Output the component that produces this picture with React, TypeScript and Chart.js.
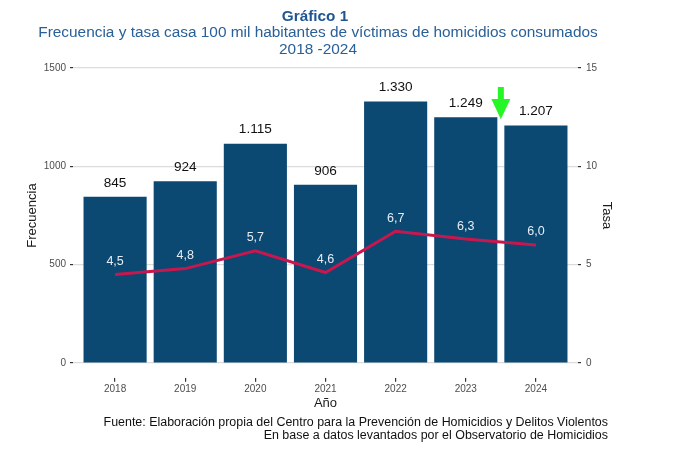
import { useEffect, useRef } from 'react';
import { Chart, registerables } from 'chart.js';

Chart.register(...registerables);

const FONT = '"Liberation Sans", Arial, Helvetica, sans-serif';

const YEARS = ['2018', '2019', '2020', '2021', '2022', '2023', '2024'];
const FRECUENCIA = [845, 924, 1115, 906, 1330, 1249, 1207];
const TASA = [4.5, 4.8, 5.7, 4.6, 6.7, 6.3, 6.0];
const FREQ_TICKS = [0, 500, 1000, 1500];
const TASA_TICKS = [0, 5, 10, 15];

// flecha verde entre 2023 y 2024 (en unidades de los ejes)
const ARROW_X = 6.5;
const ARROW_Y = [1403, 1342, 1239];

const TITLE = 'Gráfico 1';
const SUBTITLE = [
  'Frecuencia y tasa casa 100 mil habitantes de víctimas de homicidios consumados',
  '2018 -2024',
];
const FOOTER = [
  'Fuente: Elaboración propia del Centro para la Prevención de Homicidios y Delitos Violentos',
  'En base a datos levantados por el Observatorio de Homicidios',
];

const miles = (n: number) => String(n).replace(/\B(?=(\d{3})+(?!\d))/g, '.');
const decimal = (n: number) => n.toFixed(1).replace('.', ',');

const textPlugin = {
  id: 'textos',
  afterDatasetsDraw(chart: any) {
    const { ctx, scales } = chart;
    const barMeta = chart.getDatasetMeta(0);
    const lineMeta = chart.getDatasetMeta(1);
    ctx.save();
    ctx.textAlign = 'center';
    ctx.textBaseline = 'middle';

    ctx.font = `13.6px ${FONT}`;
    ctx.fillStyle = '#111111';
    barMeta.data.forEach((bar: any, i: number) => {
      ctx.fillText(miles(FRECUENCIA[i]), bar.x, bar.y - 14);
    });

    ctx.font = `12.5px ${FONT}`;
    ctx.fillStyle = '#e6edf4';
    lineMeta.data.forEach((pt: any, i: number) => {
      ctx.fillText(decimal(TASA[i]), pt.x, pt.y - 13);
    });

    // flecha
    const ax = scales.x.getPixelForValue(ARROW_X);
    const [y0, y1, y2] = ARROW_Y.map((v) => scales.y.getPixelForValue(v));
    ctx.fillStyle = '#26f526';
    ctx.beginPath();
    ctx.moveTo(ax - 3, y0);
    ctx.lineTo(ax + 3, y0);
    ctx.lineTo(ax + 3, y1);
    ctx.lineTo(ax + 9.5, y1);
    ctx.lineTo(ax, y2);
    ctx.lineTo(ax - 9.5, y1);
    ctx.lineTo(ax - 3, y1);
    ctx.closePath();
    ctx.fill();
    ctx.restore();
  },
  afterDraw(chart: any) {
    const { ctx } = chart;
    ctx.save();
    ctx.textAlign = 'center';
    ctx.textBaseline = 'middle';
    ctx.fillStyle = '#1f5591';
    ctx.font = `bold 15.3px ${FONT}`;
    ctx.fillText(TITLE, 307, 8.5);
    ctx.fillStyle = '#2a6099';
    ctx.font = `15.4px ${FONT}`;
    SUBTITLE.forEach((t, i) => ctx.fillText(t, 310, 25 + i * 17));

    ctx.textAlign = 'right';
    ctx.fillStyle = '#111111';
    ctx.font = `12.45px ${FONT}`;
    FOOTER.forEach((t, i) => ctx.fillText(t, 600, 414.5 + i * 13.5));
    ctx.restore();
  },
};

const App = () => {
  const canvasRef = useRef<HTMLCanvasElement>(null);

  useEffect(() => {
    if (!canvasRef.current) return;
    Chart.defaults.font.family = FONT;

    const chart = new Chart(canvasRef.current, {
      type: 'bar',
      data: {
        datasets: [
          {
            type: 'bar',
            label: 'Frecuencia',
            data: FRECUENCIA.map((v, i) => ({ x: i + 1, y: v })),
            backgroundColor: '#0b4872',
            categoryPercentage: 1,
            barPercentage: 0.9,
            yAxisID: 'y',
            order: 2,
          },
          {
            type: 'line',
            label: 'Tasa',
            data: TASA.map((v, i) => ({ x: i + 1, y: v })),
            borderColor: '#c8174f',
            borderWidth: 3,
            pointRadius: 0,
            tension: 0,
            yAxisID: 'y1',
            order: 1,
          },
        ] as any,
      },
      options: {
        responsive: true,
        maintainAspectRatio: false,
        animation: false,
        layout: { padding: { top: 45.25, left: 0, right: 54, bottom: 50.8 } },
        plugins: {
          legend: { display: false },
          tooltip: { enabled: false },
        },
        scales: {
          x: {
            type: 'linear',
            min: 0.4,
            max: 7.6,
            offset: false,
            afterBuildTicks: (scale: any) => {
              scale.ticks = YEARS.map((_, i) => ({ value: i + 1 }));
            },
            afterFit: (scale: any) => {
              scale.height = 33.45;
            },
            border: { display: false },
            grid: { offset: false, drawOnChartArea: false, drawTicks: true, tickLength: 4, tickColor: '#333333', lineWidth: 1.2 },
            ticks: {
              padding: 1,
              color: '#4d4d4d',
              font: { size: 10 },
              callback: (v: any) => YEARS[Number(v) - 1] ?? '',
            },
            title: { display: true, text: 'Año', color: '#1a1a1a', font: { size: 13 }, padding: { top: 0, bottom: 0 } },
          },
          y: {
            position: 'left',
            min: -75,
            max: 1575,
            afterBuildTicks: (scale: any) => {
              scale.ticks = FREQ_TICKS.map((v) => ({ value: v }));
            },
            afterFit: (scale: any) => {
              scale.width = 65;
            },
            border: { display: false },
            grid: { color: '#dcdcdc', lineWidth: 1.2, tickLength: 3, tickColor: '#333333' },
            ticks: { padding: 4, color: '#4d4d4d', font: { size: 10 }, callback: (v: any) => String(v) },
            title: { display: true, text: 'Frecuencia', color: '#1a1a1a', font: { size: 13 }, padding: { top: 16.8, bottom: 0 } },
          },
          y1: {
            position: 'right',
            min: -0.75,
            max: 15.75,
            afterBuildTicks: (scale: any) => {
              scale.ticks = TASA_TICKS.map((v) => ({ value: v }));
            },
            afterFit: (scale: any) => {
              scale.width = 40;
            },
            border: { display: false },
            grid: { drawOnChartArea: false, tickLength: 3, tickColor: '#333333', lineWidth: 1.2 },
            ticks: { padding: 5, color: '#4d4d4d', font: { size: 10 }, callback: (v: any) => String(v) },
            title: { display: true, text: 'Tasa', color: '#1a1a1a', font: { size: 13 }, padding: { top: 3.8, bottom: 0 } },
          },
        },
      } as any,
      plugins: [textPlugin],
    });

    return () => {
      chart.destroy();
    };
  }, []);

  return (
    <div style={{ position: 'relative', width: 664, height: 454, background: '#ffffff' }}>
      <canvas ref={canvasRef} />
    </div>
  );
};

export default App;
